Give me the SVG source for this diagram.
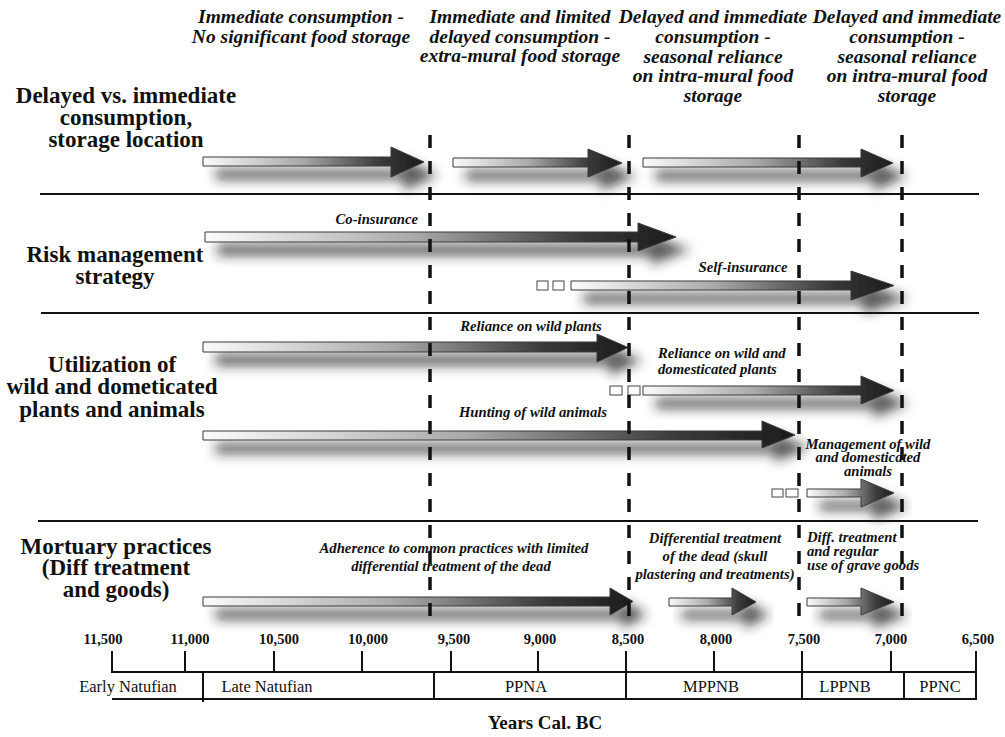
<svg xmlns="http://www.w3.org/2000/svg" width="1005" height="737" viewBox="0 0 1005 737">
<defs>
<linearGradient id="g" x1="0" y1="0" x2="1" y2="0">
<stop offset="0" stop-color="#fbfbfb"/>
<stop offset="0.45" stop-color="#a8a8a8"/>
<stop offset="0.8" stop-color="#3a3a3a"/>
<stop offset="1" stop-color="#1c1c1c"/>
</linearGradient>
<filter id="sh" x="-10%" y="-100%" width="130%" height="400%">
<feGaussianBlur in="SourceAlpha" stdDeviation="6"/>
<feOffset dx="13" dy="13" result="b"/>
<feFlood flood-color="#222" flood-opacity="0.75"/>
<feComposite in2="b" operator="in" result="s"/>
<feMerge><feMergeNode in="s"/><feMergeNode in="SourceGraphic"/></feMerge>
</filter>
<style>
.arr{fill:url(#g);stroke:#3a3a3a;stroke-width:1;filter:url(#sh)}
.sq{fill:#fff;stroke:#444;stroke-width:1}
.hd{font-family:"Liberation Serif",serif;font-weight:bold;font-style:italic;font-size:19.5px;fill:#111;text-anchor:middle}
.rl{font-family:"Liberation Serif",serif;font-weight:bold;font-size:23px;fill:#111;text-anchor:middle}
.lb{font-family:"Liberation Serif",serif;font-weight:bold;font-style:italic;font-size:14.7px;fill:#111}
.sep{stroke:#111;stroke-width:2}
.dash{stroke:#111;stroke-width:3.5;stroke-dasharray:13 13}
.tk{stroke:#111;stroke-width:2}
.num{font-family:"Liberation Serif",serif;font-weight:bold;font-size:14.5px;fill:#111;text-anchor:middle}
.per{font-family:"Liberation Serif",serif;font-size:16.5px;fill:#111;text-anchor:middle}
</style>
</defs>
<rect width="1005" height="737" fill="#fff"/>

<g id="headers">
<text class="hd" x="301" y="23">Immediate consumption -</text>
<text class="hd" x="301" y="43">No significant food storage</text>
<text class="hd" x="520" y="23">Immediate and limited</text>
<text class="hd" x="520" y="43">delayed consumption -</text>
<text class="hd" x="520" y="62">extra-mural food storage</text>
<text class="hd" x="713" y="23">Delayed and immediate</text>
<text class="hd" x="713" y="43">consumption -</text>
<text class="hd" x="713" y="63">seasonal reliance</text>
<text class="hd" x="713" y="82">on intra-mural food</text>
<text class="hd" x="713" y="102">storage</text>
<text class="hd" x="907" y="23">Delayed and immediate</text>
<text class="hd" x="907" y="43">consumption -</text>
<text class="hd" x="907" y="63">seasonal reliance</text>
<text class="hd" x="907" y="82">on intra-mural food</text>
<text class="hd" x="907" y="102">storage</text>
</g>

<g id="row-labels">
<text class="rl" x="126" y="103">Delayed vs. immediate</text>
<text class="rl" x="126" y="125">consumption,</text>
<text class="rl" x="126" y="147">storage location</text>
<text class="rl" x="115" y="262">Risk management</text>
<text class="rl" x="115" y="284">strategy</text>
<text class="rl" x="112" y="372">Utilization of</text>
<text class="rl" x="112" y="394">wild and dometicated</text>
<text class="rl" x="112" y="417">plants and animals</text>
<text class="rl" x="116" y="554">Mortuary practices</text>
<text class="rl" x="116" y="575">(Diff treatment</text>
<text class="rl" x="116" y="597">and goods)</text>
</g>

<g id="separators">
<line class="sep" x1="40" y1="194" x2="979" y2="194"/>
<line class="sep" x1="41" y1="313" x2="979" y2="313"/>
<line class="sep" x1="38" y1="521" x2="978" y2="521"/>
</g>

<g id="connectors">
<path class="arr" d="M203,157 L391,157 L391,147 L424,162 L391,177 L391,166 L203,166 Z"/>
<path class="arr" d="M453,158 L588,158 L588,149 L622,163 L588,177 L588,167 L453,167 Z"/>
<path class="arr" d="M643,158 L861,158 L861,149 L893,163 L861,177 L861,167 L643,167 Z"/>
<path class="arr" d="M205,232 L638,232 L638,223 L676,237 L638,251 L638,242 L205,242 Z"/>
<path class="arr" d="M571,281 L851,281 L851,271 L894,285.5 L851,300 L851,290 L571,290 Z"/>
<path class="arr" d="M203,342 L597,342 L597,334 L628,347.5 L597,362 L597,352 L203,352 Z"/>
<path class="arr" d="M643,386 L861,386 L861,376 L894,390.5 L861,404 L861,395 L643,395 Z"/>
<path class="arr" d="M203,431 L762,431 L762,421 L795,435 L762,448 L762,440 L203,440 Z"/>
<path class="arr" d="M807,489 L861,489 L861,479 L894,493 L861,507 L861,497 L807,497 Z"/>
<path class="arr" d="M203,597 L610,597 L610,588 L633,601.5 L610,615 L610,606 L203,606 Z"/>
<path class="arr" d="M669,598 L732,598 L732,588 L756,602 L732,615 L732,606 L669,606 Z"/>
<path class="arr" d="M807,598 L861,598 L861,588 L894,602 L861,615 L861,606 L807,606 Z"/>
<rect class="sq" x="537" y="281" width="11" height="9"/>
<rect class="sq" x="553" y="281" width="11" height="9" fill="#eee"/>
<rect class="sq" x="610" y="386" width="12" height="9"/>
<rect class="sq" x="628" y="386" width="12" height="9"/>
<rect class="sq" x="772" y="489" width="11" height="8"/>
<rect class="sq" x="786" y="489" width="12" height="8"/>
</g>

<g id="arrow-labels">
<text class="lb" x="418" y="224" text-anchor="end">Co-insurance</text>
<text class="lb" x="743" y="272" text-anchor="middle">Self-insurance</text>
<text class="lb" x="531" y="331" text-anchor="middle">Reliance on wild plants</text>
<text class="lb" x="658" y="358">Reliance on wild and</text>
<text class="lb" x="658" y="374">domesticated plants</text>
<text class="lb" x="533" y="417" text-anchor="middle">Hunting of wild animals</text>
<text class="lb" x="868" y="449" text-anchor="middle">Management of wild</text>
<text class="lb" x="868" y="462" text-anchor="middle">and domesticated</text>
<text class="lb" x="868" y="476" text-anchor="middle">animals</text>
<text class="lb" x="454" y="553" text-anchor="middle">Adherence to common practices with limited</text>
<text class="lb" x="451" y="571" text-anchor="middle">differential treatment of the dead</text>
<text class="lb" x="715" y="543" text-anchor="middle">Differential treatment</text>
<text class="lb" x="715" y="561" text-anchor="middle">of the dead (skull</text>
<text class="lb" x="715" y="579" text-anchor="middle">plastering and treatments)</text>
<text class="lb" x="807" y="542">Diff. treatment</text>
<text class="lb" x="807" y="556">and regular</text>
<text class="lb" x="807" y="570">use of grave goods</text>
</g>

<g id="period-boundaries">
<line class="dash" x1="430" y1="135" x2="430" y2="620"/>
<line class="dash" x1="629" y1="135" x2="629" y2="620"/>
<line class="dash" x1="799" y1="135" x2="799" y2="620"/>
<line class="dash" x1="902" y1="135" x2="902" y2="620"/>
</g>

<g id="timeline">
<text class="num" x="103" y="644">11,500</text>
<text class="num" x="190" y="644">11,000</text>
<text class="num" x="279" y="644">10,500</text>
<text class="num" x="368" y="644">10,000</text>
<text class="num" x="454" y="644">9,500</text>
<text class="num" x="540" y="644">9,000</text>
<text class="num" x="628" y="644">8,500</text>
<text class="num" x="716" y="644">8,000</text>
<text class="num" x="804" y="644">7,500</text>
<text class="num" x="891" y="644">7,000</text>
<text class="num" x="978" y="644">6,500</text>
<g class="tk">
<line x1="112" y1="651" x2="112" y2="673"/>
<line x1="185" y1="651" x2="185" y2="673"/>
<line x1="274" y1="651" x2="274" y2="673"/>
<line x1="362" y1="651" x2="362" y2="673"/>
<line x1="451" y1="651" x2="451" y2="673"/>
<line x1="538" y1="651" x2="538" y2="673"/>
<line x1="626" y1="651" x2="626" y2="700"/>
<line x1="714" y1="651" x2="714" y2="673"/>
<line x1="802" y1="651" x2="802" y2="700"/>
<line x1="891" y1="651" x2="891" y2="673"/>
<line x1="976" y1="651" x2="976" y2="700"/>
<line x1="112" y1="672" x2="977" y2="672"/>
<line x1="112" y1="699" x2="977" y2="699"/>
<line x1="203" y1="672" x2="203" y2="702"/>
<line x1="434" y1="672" x2="434" y2="700"/>
<line x1="904" y1="672" x2="904" y2="700"/>
</g>
<text class="per" x="128" y="692">Early Natufian</text>
<text class="per" x="267" y="692">Late Natufian</text>
<text class="per" x="526" y="692">PPNA</text>
<text class="per" x="711" y="692">MPPNB</text>
<text class="per" x="845" y="692">LPPNB</text>
<text class="per" x="940" y="692">PPNC</text>
<text x="545" y="729" font-family="Liberation Serif, serif" font-weight="bold" font-size="19" text-anchor="middle" fill="#111">Years Cal. BC</text>
</g>
</svg>
